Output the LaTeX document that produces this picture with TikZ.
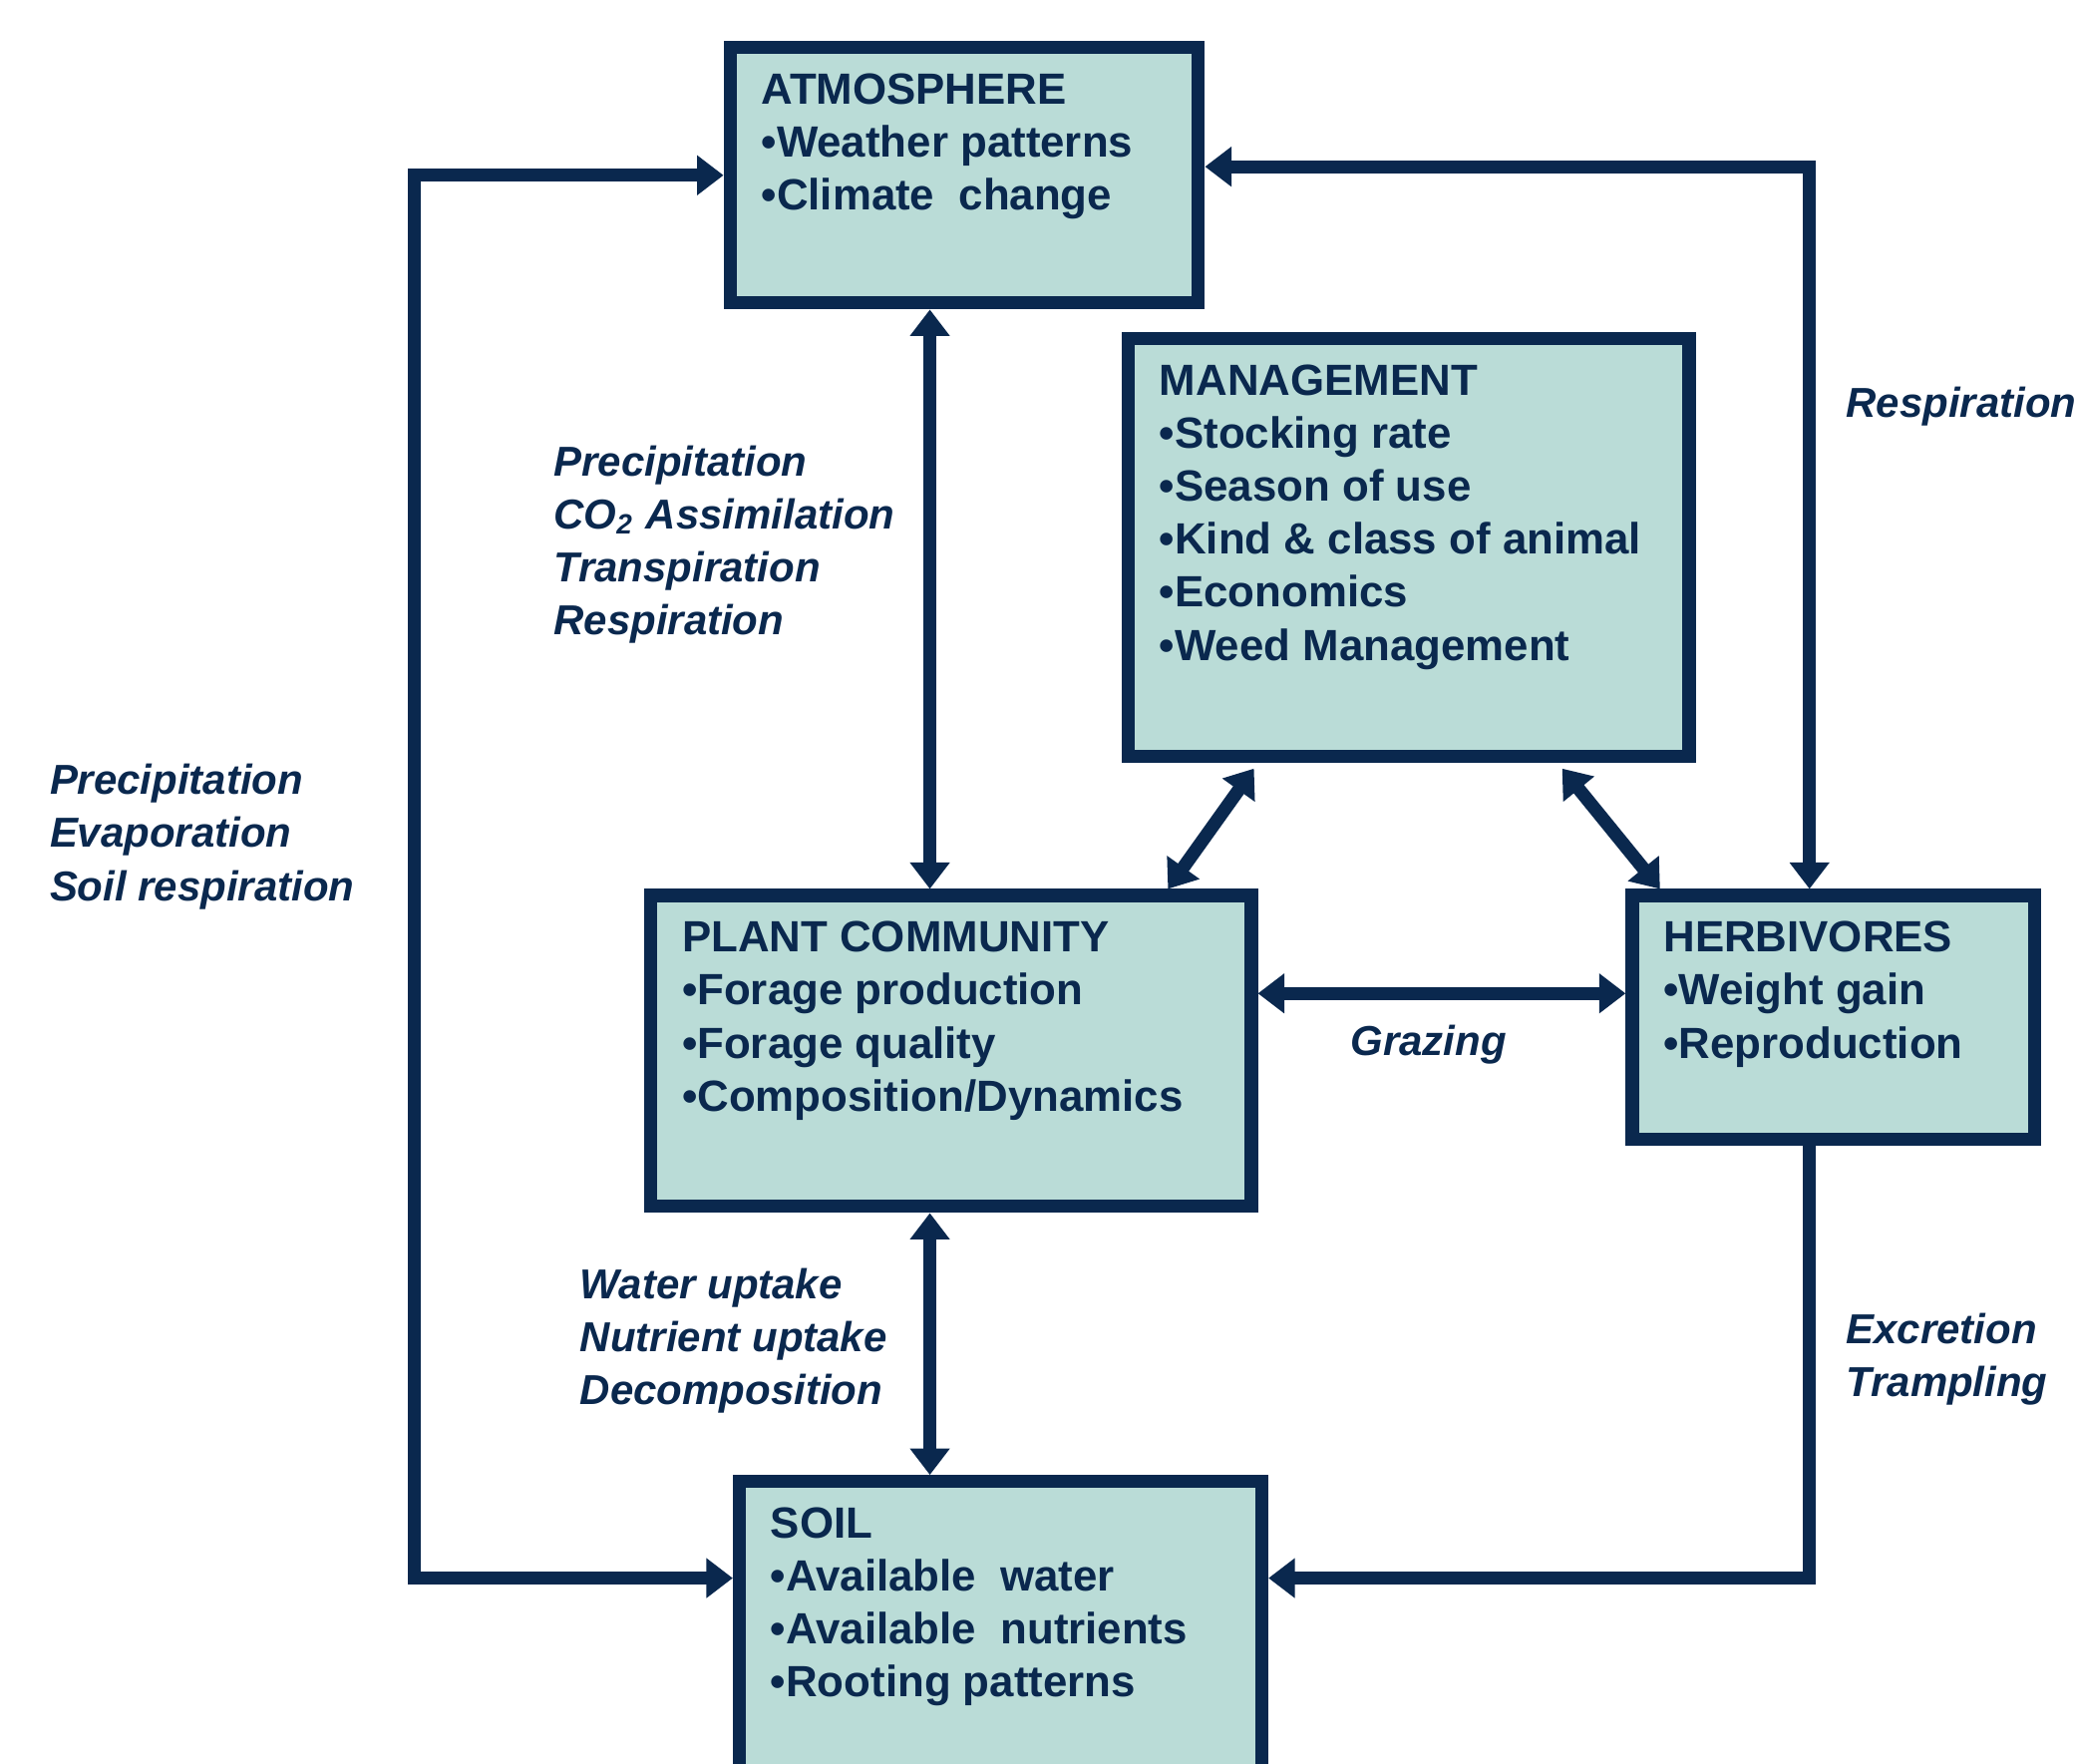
\documentclass[tikz,border=0pt]{standalone}
\usepackage{fontspec}
\setmainfont{Liberation Sans}
\usetikzlibrary{arrows.meta,positioning}

\definecolor{navy}{RGB}{10,40,78}
\definecolor{paleteal}{RGB}{186,220,215}

\tikzset{
  stage/.style={rectangle,draw=navy,fill=paleteal,line width=0.1cm,inner sep=0pt},
  stagetext/.style={anchor=north west,align=left,inner sep=0pt,text=navy,
    font=\fontsize{9.4}{11.4}\selectfont\bfseries},
  note/.style={anchor=north west,align=left,inner sep=0pt,text=navy,
    font=\fontsize{9.0}{11.4}\selectfont\bfseries\itshape},
  link/.style={draw=navy,line width=0.1cm,>={Triangle[length=0.2cm,width=0.29cm]}},
}

\begin{document}
\begin{tikzpicture}
\useasboundingbox (0,0) rectangle (15.68,-13.33);

% boxes
\node[stage,minimum width=3.54cm,minimum height=1.93cm] (atm) at (7.29,-1.325) {};
\node[stage,minimum width=4.24cm,minimum height=3.16cm] (mgmt) at (10.65,-4.14) {};
\node[stage,minimum width=4.54cm,minimum height=2.35cm] (plant) at (7.19,-7.945) {};
\node[stage,minimum width=3.04cm,minimum height=1.84cm] (herb) at (13.86,-7.69) {};
\node[stage,minimum width=3.95cm,minimum height=2.40cm] (soil) at (7.565,-12.40) {};

\node[stagetext,below right=0.24cm and 0.28cm of atm.north west] (atmtext)
  {ATMOSPHERE\\•Weather patterns\\•Climate~ change};
\node[stagetext,below right=0.24cm and 0.28cm of mgmt.north west] (mgmttext)
  {MANAGEMENT\\•Stocking rate\\•Season of use\\•Kind \& class of animal\\•Economics\\•Weed Management};
\node[stagetext,below right=0.24cm and 0.28cm of plant.north west] (planttext)
  {PLANT COMMUNITY\\•Forage production\\•Forage quality\\•Composition/Dynamics};
\node[stagetext,below right=0.24cm and 0.28cm of herb.north west] (herbtext)
  {HERBIVORES\\•Weight gain\\•Reproduction};
\node[stagetext,below right=0.24cm and 0.28cm of soil.north west] (soiltext)
  {SOIL\\•Available~ water\\•Available~ nutrients\\•Rooting patterns};

% routing points
\coordinate (midcol) at (7.03,0);
\coordinate (leftbot) at (3.13,-11.93);
\coordinate (rightcol) at (13.68,-1.26);
\coordinate (grazerow) at (0,-7.51);

% connectors
\draw[link,<->] (atm.west) -| (leftbot) -- (leftbot -| soil.west);
\draw[link,<->] (atm.east |- rightcol) -- (rightcol) -- (rightcol |- herb.north);
\draw[link,->] (herb.south -| rightcol) |- (leftbot -| soil.east);
\draw[link,<->] (atm.south -| midcol) -- (plant.north -| midcol);
\draw[link,<->] (plant.south -| midcol) -- (soil.north -| midcol);
\draw[link,<->] (plant.east |- grazerow) -- (herb.west |- grazerow);
\draw[link,<->] ([xshift=1cm,yshift=-0.04cm]mgmt.south west) -- ([xshift=-0.68cm]plant.north east);
\draw[link,<->] ([xshift=-1.01cm,yshift=-0.04cm]mgmt.south east) -- ([xshift=0.26cm]herb.north west);

% flux labels
\node[note] (atmflux) at (4.18,-3.36)
  {Precipitation\\CO\textsubscript{2} Assimilation\\Transpiration\\Respiration};
\node[note] (sideflux) at (0.37,-5.77) {Precipitation\\Evaporation\\Soil respiration};
\node[note] (herbresp) at (13.95,-2.92) {Respiration};
\node[note,anchor=center] (grazing) at (10.80,-7.90) {Grazing};
\node[note] (soilflux) at (4.38,-9.58) {Water uptake\\Nutrient uptake\\Decomposition};
\node[note] (herbsoil) at (13.95,-9.92) {Excretion\\Trampling};
\end{tikzpicture}
\end{document}
